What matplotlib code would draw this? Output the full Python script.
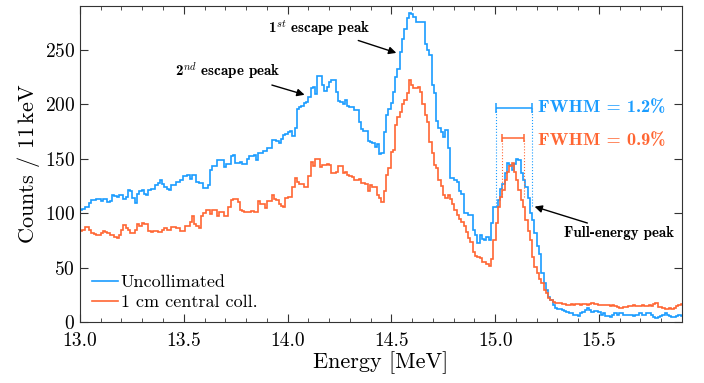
import numpy as np
import matplotlib
matplotlib.use("Agg")
import matplotlib.pyplot as plt
from matplotlib.ticker import MultipleLocator, FormatStrFormatter

plt.rcParams['font.family'] = 'serif'
plt.rcParams['font.serif'] = ['cmr10']
plt.rcParams['mathtext.fontset'] = 'cm'
plt.rcParams['axes.formatter.use_mathtext'] = True

# spectra, 11 keV bins starting at 13.0 MeV
e_start = 13.0
bin_width = 0.011

uncollimated = [
    103, 104, 106, 106, 109, 112, 112, 113, 113, 111,
    113, 113, 110, 111, 117, 116, 115, 117, 117, 113,
    115, 121, 120, 114, 109, 118, 120, 121, 118, 117,
    121, 122, 122, 126, 128, 130, 127, 124, 122, 121,
    126, 126, 129, 129, 130, 134, 134, 135, 131, 135,
    135, 129, 128, 128, 123, 123, 126, 140, 143, 143,
    149, 149, 149, 142, 145, 145, 152, 153, 146, 146,
    147, 145, 145, 150, 152, 152, 153, 149, 155, 155,
    157, 157, 160, 160, 167, 167, 166, 164, 168, 172,
    173, 174, 175, 171, 178, 196, 197, 198, 201, 202,
    207, 215, 216, 209, 226, 226, 218, 212, 216, 220,
    222, 222, 211, 203, 202, 200, 204, 198, 197, 197,
    195, 195, 184, 177, 175, 175, 166, 165, 164, 161,
    163, 154, 155, 174, 190, 196, 201, 211, 225, 232,
    248, 260, 269, 279, 284, 283, 280, 275, 275, 275,
    275, 255, 250, 245, 218, 210, 185, 178, 174, 170,
    176, 160, 132, 132, 130, 129, 120, 118, 100, 100,
    98, 98, 85, 80, 73, 80, 76, 75, 78, 75,
    91, 106, 106, 112, 122, 127, 137, 146, 144, 140,
    145, 150, 149, 137, 130, 124, 114, 100, 94, 82,
    70, 63, 45, 36, 30, 23, 20, 16, 13, 12,
    12, 11, 10, 9, 8, 8, 7, 7, 6, 8,
    9, 11, 13, 11, 9, 10, 10, 9, 7, 8,
    6, 6, 5, 7, 8, 7, 8, 8, 7, 7,
    7, 7, 6, 7, 7, 8, 7, 7, 8, 8,
    7, 5, 4, 5, 6, 7, 8, 7, 6, 5,
    5, 6, 7, 6,
]

central_coll = [
    84, 85, 87, 87, 85, 82, 81, 80, 80, 82,
    84, 83, 82, 80, 80, 78, 77, 80, 85, 89,
    86, 85, 82, 82, 85, 90, 88, 91, 90, 90,
    84, 83, 84, 84, 83, 83, 85, 86, 85, 85,
    87, 87, 86, 86, 84, 84, 88, 88, 92, 97,
    90, 88, 86, 97, 100, 103, 103, 99, 103, 103,
    97, 101, 101, 97, 97, 106, 112, 113, 113, 110,
    103, 102, 101, 101, 101, 102, 101, 101, 111, 108,
    108, 105, 111, 111, 117, 113, 112, 108, 107, 106,
    114, 115, 115, 124, 132, 129, 127, 127, 124, 124,
    134, 147, 143, 150, 150, 142, 144, 144, 145, 144,
    137, 137, 138, 143, 143, 137, 138, 135, 134, 133,
    130, 130, 131, 128, 128, 127, 120, 126, 124, 124,
    117, 114, 110, 120, 135, 141, 156, 158, 181, 188,
    193, 200, 204, 210, 222, 218, 215, 215, 216, 211,
    200, 190, 184, 165, 155, 144, 141, 130, 125, 117,
    114, 117, 113, 108, 103, 98, 95, 92, 88, 83,
    77, 74, 64, 61, 60, 59, 55, 55, 53, 52,
    58, 75, 91, 106, 115, 121, 130, 138, 143, 146,
    138, 130, 121, 112, 106, 94, 84, 75, 60, 51,
    45, 40, 36, 30, 27, 22, 20, 19, 18, 18,
    18, 17, 17, 16, 16, 17, 16, 17, 17, 16,
    17, 17, 16, 17, 18, 17, 17, 16, 16, 16,
    16, 16, 15, 16, 15, 14, 13, 13, 14, 14,
    15, 15, 16, 15, 15, 15, 16, 15, 15, 16,
    15, 17, 18, 14, 14, 13, 12, 12, 13, 12,
    13, 15, 16, 17,
]

labels = ["Uncollimated", "1 cm central coll."]
blue = "#1a9cff"
orange = "#ff6633"

# FWHM markers (MeV)
fwhm_blue = (15.006, 15.179)
fwhm_orange = (15.035, 15.139)

fig = plt.figure(figsize=(7.04, 3.83), dpi=100)
ax = fig.add_axes([0.1136, 0.1587, 0.8551, 0.8256])

edges = e_start + bin_width * np.arange(len(uncollimated) + 1)
ax.stairs(uncollimated, edges, color=blue, lw=1.2, label=labels[0], baseline=None)
ax.stairs(central_coll, edges, color=orange, lw=1.2, label=labels[1], baseline=None)

ax.set_xlim(13.0, 15.9)
ax.set_ylim(0, 290)
ax.xaxis.set_major_locator(MultipleLocator(0.5))
ax.xaxis.set_minor_locator(MultipleLocator(0.1))
ax.xaxis.set_major_formatter(FormatStrFormatter("%.1f"))
ax.yaxis.set_major_locator(MultipleLocator(50))
ax.tick_params(which="both", direction="in", top=True, right=True, labelsize=14,
               colors="#333333", labelcolor="black")
ax.tick_params(which="major", length=6)
ax.tick_params(which="minor", length=3)
ax.tick_params(axis="x", which="major", pad=7)
for s in ax.spines.values():
    s.set_color("#333333")

ax.set_xlabel("Energy [MeV]", fontsize=16, labelpad=1)
ax.set_ylabel(r"Counts / 11$\,$keV", fontsize=16, labelpad=2)

# FWHM bars
ax.errorbar(np.mean(fwhm_blue), 196.5, xerr=np.diff(fwhm_blue)[0] / 2, color=blue,
            capsize=3.6, lw=1.1, capthick=1.1)
ax.vlines(fwhm_blue, 107, 196.5, colors=blue, linestyles=":", lw=0.8)
ax.errorbar(np.mean(fwhm_orange), 169, xerr=np.diff(fwhm_orange)[0] / 2, color=orange,
            capsize=2.8, lw=1.1, capthick=1.1)
ax.vlines(fwhm_orange, 115, 169, colors=orange, linestyles=":", lw=0.8)
ax.text(15.206, 196.5, "FWHM = 1.2%", color=blue, fontsize=13.2, family="cmb10",
        va="center", ha="left")
ax.text(15.206, 166.5, "FWHM = 0.9%", color=orange, fontsize=13.2, family="cmb10",
        va="center", ha="left")

arrow = dict(arrowstyle="-|>", color="black", lw=1.0, mutation_scale=11, shrinkA=0, shrinkB=0)
ax.annotate(r"1$^{st}$ escape peak", xy=(14.524, 247), xytext=(14.154, 270),
            fontsize=10.8, family="cmb10", ha="center", va="center", arrowprops=arrow)
ax.annotate(r"2$^{nd}$ escape peak", xy=(14.082, 208.6), xytext=(13.709, 229.7),
            fontsize=10.8, family="cmb10", ha="center", va="center", arrowprops=arrow)
ax.annotate("Full-energy peak", xy=(15.19, 106), xytext=(15.596, 82),
            fontsize=10.8, family="cmb10", ha="center", va="center", arrowprops=arrow)

ax.legend(loc="lower left", frameon=False, fontsize=13, handlelength=1.45, handletextpad=0.15,
          labelspacing=0.25, borderaxespad=0.2, borderpad=0.45)

fig.savefig("out.png", dpi=100)
